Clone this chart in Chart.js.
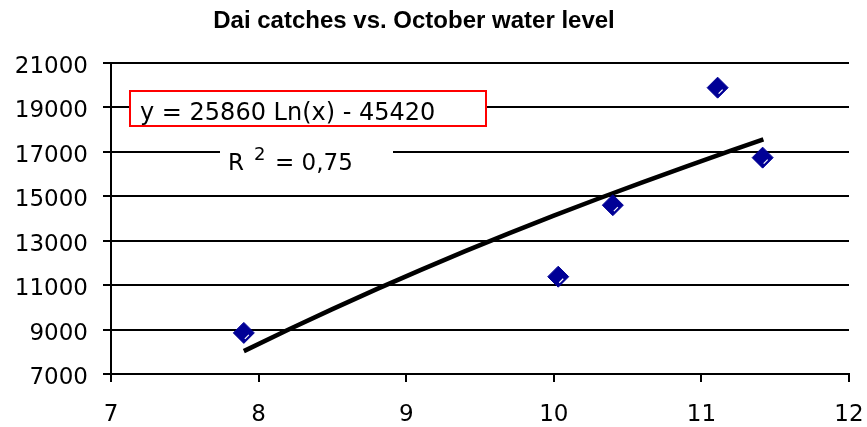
<!DOCTYPE html>
<html>
<head>
<meta charset="utf-8">
<script src="https://cdn.jsdelivr.net/npm/chart.js@4.4.1/dist/chart.umd.min.js"></script>
<style>
  html, body { margin: 0; padding: 0; background: #fff; }
  #chart { display: block; }
</style>
</head>
<body>
<canvas id="chart" width="867" height="427"></canvas>
<script>
// observed points (October water level, Dai catches)
const waterLevel = [7.9, 10.03, 10.4, 11.11, 11.415];
const catches = [8850, 11380, 14600, 19890, 16740];

// trendline
const trendX = [7.9, 8.2, 8.5, 8.8, 9.1, 9.4, 9.7, 10.0, 10.3, 10.6, 10.9, 11.2, 11.42];
const trendY = [8030, 8990, 9920, 10820, 11690, 12530, 13340, 14130, 14890, 15630, 16350, 17060, 17560];

const xTicks = [7, 8, 9, 10, 11, 12];
const yTicks = [7000, 9000, 11000, 13000, 15000, 17000, 19000, 21000];

const chartTitle = 'Dai catches vs. October water level';
const equationText = 'y = 25860 Ln(x) - 45420';
const rSquared = '0,75';

const tickFont = { family: 'DejaVu Sans', size: 23 };

const overlay = {
    id: 'overlay',
    afterDatasetsDraw(chart) {
        const ctx = chart.ctx;
        // small highlight on each diamond
        const meta = chart.getDatasetMeta(0);
        ctx.save();
        ctx.strokeStyle = '#ffffff';
        ctx.lineWidth = 1.2;
        meta.data.forEach(pt => {
            ctx.beginPath();
            ctx.moveTo(pt.x + 1, pt.y + 6);
            ctx.lineTo(pt.x + 5, pt.y + 2);
            ctx.stroke();
        });
        ctx.restore();
    },
    afterDraw(chart) {
        const ctx = chart.ctx;
        ctx.save();
        // title
        ctx.fillStyle = '#000';
        ctx.font = 'bold 24px "Liberation Sans", Arial, sans-serif';
        ctx.textAlign = 'center';
        ctx.textBaseline = 'alphabetic';
        ctx.fillText(chartTitle, 414, 28);

        // equation box
        ctx.fillStyle = '#fff';
        ctx.fillRect(130, 90, 356, 36);
        ctx.strokeStyle = '#ff0000';
        ctx.lineWidth = 2;
        ctx.strokeRect(130, 91, 356, 35);
        ctx.fillStyle = '#000';
        ctx.textAlign = 'left';
        ctx.font = '24px "DejaVu Sans"';
        ctx.fillText(equationText, 140, 120);

        // R squared label
        ctx.fillStyle = '#fff';
        ctx.fillRect(220, 140, 173, 34);
        ctx.fillStyle = '#000';
        ctx.font = '23px "DejaVu Sans"';
        ctx.fillText('R', 228, 170);
        ctx.font = '18px "DejaVu Sans"';
        ctx.fillText('2', 254, 160);
        ctx.font = '23px "DejaVu Sans"';
        ctx.fillText('= ' + rSquared, 275, 170);
        ctx.restore();
    }
};

new Chart(document.getElementById('chart'), {
    type: 'scatter',
    data: {
        datasets: [
            {
                label: 'Catches',
                data: waterLevel.map((x, i) => ({ x: x, y: catches[i] })),
                pointStyle: 'rectRot',
                pointRadius: 10.5,
                pointBackgroundColor: '#000096',
                pointBorderColor: '#000096',
                pointBorderWidth: 1,
                order: 0
            },
            {
                label: 'Trend',
                data: trendX.map((x, i) => ({ x: x, y: trendY[i] })),
                showLine: true,
                pointRadius: 0,
                borderColor: '#000',
                borderWidth: 4.5,
                tension: 0,
                order: 1
            }
        ]
    },
    options: {
        responsive: false,
        animation: false,
        devicePixelRatio: 1,
        layout: { padding: { top: 63, right: 18, left: 0, bottom: 0 } },
        plugins: {
            legend: { display: false },
            title: { display: false },
            tooltip: { enabled: false }
        },
        scales: {
            x: {
                type: 'linear',
                min: 7,
                max: 12,
                afterBuildTicks: scale => { scale.ticks = xTicks.map(v => ({ value: v })); },
                afterFit: scale => {
                    scale.height = 53;
                    scale.paddingLeft = 0;
                    scale.paddingRight = 0;
                },
                border: { color: '#000', width: 2 },
                grid: { drawOnChartArea: false, drawTicks: true, tickLength: 8, color: '#000', lineWidth: 2 },
                ticks: { color: '#000', font: tickFont, padding: 19, maxRotation: 0, callback: v => String(v) }
            },
            y: {
                min: 7000,
                max: 21000,
                afterBuildTicks: scale => { scale.ticks = yTicks.map(v => ({ value: v })); },
                afterFit: scale => {
                    scale.width = 111;
                    scale.paddingTop = 0;
                    scale.paddingBottom = 0;
                },
                border: { color: '#000', width: 2 },
                grid: { color: '#000', lineWidth: 2, tickLength: 8 },
                ticks: { color: '#000', font: tickFont, padding: 15, labelOffset: 4, callback: v => String(v) }
            }
        }
    },
    plugins: [overlay]
});
</script>
</body>
</html>
